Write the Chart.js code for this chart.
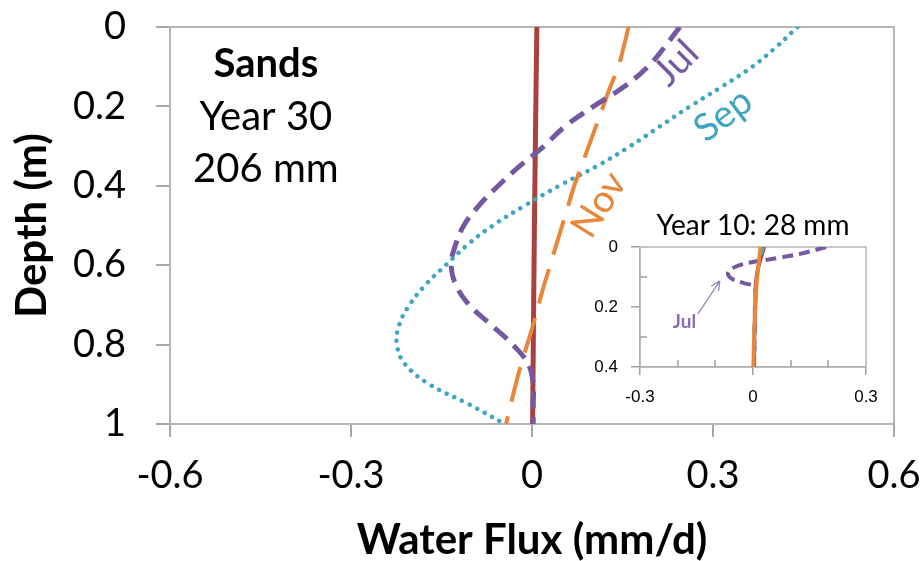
<!DOCTYPE html>
<html>
<head>
<meta charset="utf-8">
<script src="https://cdn.jsdelivr.net/npm/chart.js@4.4.1/dist/chart.umd.min.js"></script>
<style>
  body { margin: 0; background: #fff; }
  #wrap { position: relative; width: 923px; height: 561px; }
  #mainChart { position: absolute; left: 0; top: 0; }
  #insetChart { position: absolute; left: 580px; top: 200px; }
</style>
</head>
<body>
<div id="wrap">
  <canvas id="mainChart" width="923" height="561"></canvas>
  <canvas id="insetChart" width="320" height="220"></canvas>
</div>
<script>
// Main panel: Sands, year 30 (depth in m, flux in mm/d)
const depth = [0, 0.05, 0.1, 0.15, 0.2, 0.25, 0.3, 0.35, 0.4, 0.45, 0.5, 0.55, 0.6, 0.65, 0.7, 0.75, 0.8, 0.85, 0.9, 0.95, 1];
const julFlux = [0.245, 0.22, 0.192, 0.153, 0.102, 0.055, 0.02, -0.02, -0.056, -0.088, -0.113, -0.127, -0.134, -0.126, -0.104, -0.068, -0.032, -0.006, 0.002, 0.002, 0.002];
const sepFlux = [0.44, 0.405, 0.365, 0.315, 0.262, 0.212, 0.163, 0.108, 0.045, -0.012, -0.065, -0.108, -0.143, -0.177, -0.203, -0.22, -0.224, -0.21, -0.17, -0.105, -0.045];
const novFlux = [0.16, 0.152, 0.143, 0.13, 0.118, 0.106, 0.094, 0.082, 0.07, 0.06, 0.05, 0.04, 0.03, 0.02, 0.011, 0.002, -0.008, -0.018, -0.027, -0.035, -0.043];
const baseDepth = [0, 0.5, 1];
const baseFlux = [0.008, 0.004, 0.001];

const xTicksMain = [-0.6, -0.3, 0, 0.3, 0.6];
const yTicksMain = [0, 0.2, 0.4, 0.6, 0.8, 1];

// Inset: year 10
const insetJulDepth = [0, 0.02, 0.035, 0.05, 0.065, 0.085, 0.105, 0.12, 0.135, 0.2, 0.3, 0.4];
const insetJul = [0.194, 0.135, 0.075, 0.0, -0.045, -0.066, -0.057, -0.025, 0.004, 0.005, 0.004, 0.003];
const insetDepth = [0, 0.1, 0.2, 0.3, 0.4];
const insetNov = [0.02, 0.011, 0.006, 0.003, 0.001];
const insetSep = [0.026, 0.01, 0.006, 0.004, 0.003];
const insetBase = [0.03, 0.009, 0.006, 0.004, 0.003];

const insetXTicks = [-0.3, -0.2, -0.1, 0, 0.1, 0.2, 0.3];
const insetXLabels = [-0.3, 0, 0.3];
const insetYTicks = [0, 0.1, 0.2, 0.3, 0.4];
const insetYLabels = [0, 0.2, 0.4];

const toPoints = (ys, xs) => ys.map((d, i) => ({ x: xs[i], y: d }));
const fmt = v => String(Math.round(v * 10) / 10);
const hasValue = (list, v) => list.some(t => Math.abs(t - v) < 1e-6);

// fixed axis size, no extra label padding added to the layout
const fixSize = (prop, size) => s => {
  s[prop] = size;
  s.paddingTop = 0; s.paddingBottom = 0; s.paddingLeft = 0; s.paddingRight = 0;
};

// Gray box round the plot area
const frameBox = {
  id: 'frameBox',
  beforeDatasetsDraw(chart, args, opts) {
    const { ctx, chartArea: a } = chart;
    ctx.save();
    ctx.strokeStyle = opts.color;
    ctx.lineWidth = opts.width;
    ctx.strokeRect(a.left, a.top, a.right - a.left, a.bottom - a.top);
    ctx.restore();
  }
};

// Text box and curve labels of the main panel
const mainNotes = {
  id: 'mainNotes',
  afterDatasetsDraw(chart) {
    const { ctx, scales: { x, y } } = chart;
    ctx.save();
    ctx.fillStyle = '#000';
    ctx.textAlign = 'center';
    ctx.textBaseline = 'alphabetic';
    const cx = x.getPixelForValue(-0.441);
    ctx.font = 'bold 40px Lato';
    ctx.fillText('Sands', cx, y.getPixelForValue(0.126));
    ctx.font = '40px Lato';
    ctx.fillText('Year 30', cx, y.getPixelForValue(0.259));
    ctx.fillText('206 mm', cx, y.getPixelForValue(0.39));

    const labels = [
      { text: 'Jul', fx: 0.239, d: 0.091, rot: -45, color: '#7559a0' },
      { text: 'Sep', fx: 0.317, d: 0.222, rot: -37, color: '#3ea6c2' },
      { text: 'Nov', fx: 0.111, d: 0.448, rot: -58, color: '#e8863a' }
    ];
    ctx.font = '38px Lato';
    ctx.textBaseline = 'middle';
    labels.forEach(l => {
      ctx.save();
      ctx.translate(x.getPixelForValue(l.fx), y.getPixelForValue(l.d));
      ctx.rotate(l.rot * Math.PI / 180);
      ctx.fillStyle = l.color;
      ctx.fillText(l.text, 0, 0);
      ctx.restore();
    });
    ctx.restore();
  }
};

// Title, inner minor ticks and the Jul arrow of the inset
const insetNotes = {
  id: 'insetNotes',
  afterDraw(chart) {
    const { ctx, chartArea: a, scales: { x, y } } = chart;
    ctx.save();
    ctx.fillStyle = '#000';
    ctx.textAlign = 'center';
    ctx.font = '28px Lato';
    ctx.fillText('Year 10: 28 mm', (a.left + a.right) / 2, a.top - 12);

    ctx.strokeStyle = '#a0a0a0';
    ctx.lineWidth = 1.5;
    ctx.beginPath();
    insetXTicks.filter(v => !hasValue(insetXLabels, v)).forEach(v => {
      const px = Math.round(x.getPixelForValue(v));
      ctx.moveTo(px, a.bottom);
      ctx.lineTo(px, a.bottom - 7);
    });
    insetYTicks.filter(v => !hasValue(insetYLabels, v)).forEach(v => {
      const py = Math.round(y.getPixelForValue(v));
      ctx.moveTo(a.left, py);
      ctx.lineTo(a.left + 7, py);
    });
    ctx.stroke();

    const tx = x.getPixelForValue(-0.146), ty = y.getPixelForValue(0.223);
    const hx = x.getPixelForValue(-0.088), hy = y.getPixelForValue(0.113);
    const ang = Math.atan2(hy - ty, hx - tx);
    ctx.strokeStyle = '#9a84bf';
    ctx.lineWidth = 1.3;
    ctx.beginPath();
    ctx.moveTo(tx, ty);
    ctx.lineTo(hx, hy);
    [0.45, -0.45].forEach(da => {
      ctx.moveTo(hx, hy);
      ctx.lineTo(hx - 10 * Math.cos(ang + da), hy - 10 * Math.sin(ang + da));
    });
    ctx.stroke();

    ctx.fillStyle = '#8a6db0';
    ctx.font = 'bold 19px Lato';
    ctx.textBaseline = 'middle';
    ctx.fillText('Jul', x.getPixelForValue(-0.182), y.getPixelForValue(0.25));
    ctx.restore();
  }
};

function renderMainChart() {
  const ctx = document.getElementById('mainChart');
  const lineSet = (label, pts, color, width, dash, cap, order) => ({
    label, data: pts, showLine: true, borderColor: color, borderWidth: width,
    borderDash: dash, borderCapStyle: cap, pointRadius: 0, tension: 0.4, fill: false, order
  });
  new Chart(ctx, {
    type: 'scatter',
    data: {
      datasets: [
        lineSet('Jul', toPoints(depth, julFlux), '#7559a0', 5, [17, 9], 'butt', 0),
        lineSet('Nov', toPoints(depth, novFlux), '#e8863a', 4, [36, 15], 'butt', 1),
        lineSet('Sep', toPoints(depth, sepFlux), '#3ea6c2', 4.5, [0.01, 8.5], 'round', 2),
        lineSet('Base', toPoints(baseDepth, baseFlux), '#a8413f', 5, [], 'butt', 3)
      ]
    },
    options: {
      responsive: false,
      animation: false,
      layout: { padding: { top: 27, right: 29, left: 0, bottom: 0 } },
      plugins: {
        legend: { display: false },
        tooltip: { enabled: false },
        frameBox: { color: '#b5b5b5', width: 2 }
      },
      scales: {
        x: {
          type: 'linear',
          min: -0.6,
          max: 0.6,
          afterBuildTicks: s => { s.ticks = xTicksMain.map(v => ({ value: v })); },
          afterFit: fixSize('height', 137),
          ticks: { font: { family: 'Lato', size: 38 }, color: '#000', padding: 16, maxRotation: 0, callback: fmt },
          grid: { drawOnChartArea: false, tickLength: 13, color: '#a6a6a6', lineWidth: 2 },
          border: { color: '#a6a6a6', width: 2 },
          title: {
            display: true,
            text: 'Water Flux (mm/d)',
            color: '#000',
            font: { family: 'Lato', size: 42, weight: 'bold', lineHeight: 1.0 },
            padding: 0
          }
        },
        y: {
          type: 'linear',
          min: 0,
          max: 1,
          reverse: true,
          afterBuildTicks: s => { s.ticks = yTicksMain.map(v => ({ value: v })); },
          afterFit: fixSize('width', 170),
          ticks: { font: { family: 'Lato', size: 38 }, color: '#000', padding: 30, callback: fmt },
          grid: { drawOnChartArea: false, tickLength: 14, color: '#a6a6a6', lineWidth: 2 },
          border: { color: '#a6a6a6', width: 2 },
          title: {
            display: true,
            text: 'Depth (m)',
            color: '#000',
            font: { family: 'Lato', size: 42, weight: 'bold', lineHeight: 1.0 },
            padding: { top: 11, bottom: 0 }
          }
        }
      }
    },
    plugins: [frameBox, mainNotes]
  });
}

function renderInsetChart() {
  const ctx = document.getElementById('insetChart');
  const lineSet = (label, pts, color, width, dash, order) => ({
    label, data: pts, showLine: true, borderColor: color, borderWidth: width,
    borderDash: dash, pointRadius: 0, tension: 0.4, fill: false, order
  });
  const tickFont = { family: 'Liberation Sans', size: 17 };
  new Chart(ctx, {
    type: 'scatter',
    data: {
      datasets: [
        lineSet('Nov', toPoints(insetDepth, insetNov), '#e8863a', 4, [], 0),
        lineSet('Jul', toPoints(insetJulDepth, insetJul), '#7559a0', 4, [11, 6], 1),
        lineSet('Sep', toPoints(insetDepth, insetSep), '#3ea6c2', 4, [8, 12], 2),
        lineSet('Base', toPoints(insetDepth, insetBase), '#a8413f', 3.5, [], 3)
      ]
    },
    options: {
      responsive: false,
      animation: false,
      layout: { padding: { top: 47, right: 34, left: 0, bottom: 0 } },
      plugins: {
        legend: { display: false },
        tooltip: { enabled: false },
        frameBox: { color: '#b5b5b5', width: 1.5 }
      },
      scales: {
        x: {
          type: 'linear',
          min: -0.3,
          max: 0.3,
          afterBuildTicks: s => { s.ticks = insetXTicks.map(v => ({ value: v })); },
          afterFit: fixSize('height', 53),
          ticks: {
            font: tickFont, color: '#000', padding: 12, maxRotation: 0, autoSkip: false,
            callback: v => hasValue(insetXLabels, v) ? fmt(v) : ''
          },
          grid: {
            drawOnChartArea: false, tickLength: 8, lineWidth: 1.5, color: '#a0a0a0',
            tickColor: c => hasValue(insetXLabels, c.tick.value) ? '#a0a0a0' : 'rgba(0,0,0,0)'
          },
          border: { color: '#a0a0a0', width: 1.5 }
        },
        y: {
          type: 'linear',
          min: 0,
          max: 0.4,
          reverse: true,
          afterBuildTicks: s => { s.ticks = insetYTicks.map(v => ({ value: v })); },
          afterFit: fixSize('width', 60),
          ticks: {
            font: tickFont, color: '#000', padding: 13, autoSkip: false,
            callback: v => hasValue(insetYLabels, v) ? fmt(v) : ''
          },
          grid: {
            drawOnChartArea: false, tickLength: 9, lineWidth: 1.5, color: '#a0a0a0',
            tickColor: c => hasValue(insetYLabels, c.tick.value) ? '#a0a0a0' : 'rgba(0,0,0,0)'
          },
          border: { color: '#a0a0a0', width: 1.5 }
        }
      }
    },
    plugins: [frameBox, insetNotes]
  });
}

renderMainChart();
renderInsetChart();
</script>
</body>
</html>
